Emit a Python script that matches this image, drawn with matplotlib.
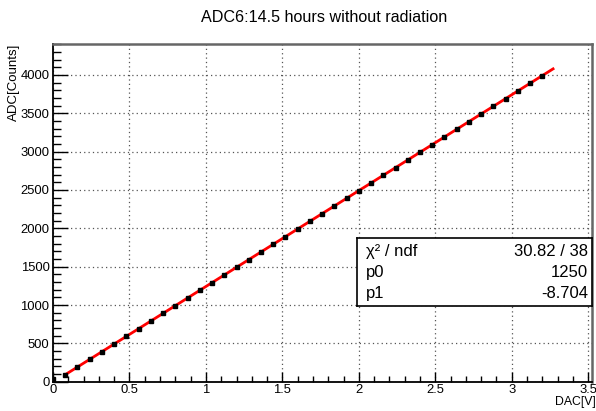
import numpy as np
import matplotlib
matplotlib.use("Agg")
import matplotlib.pyplot as plt
from matplotlib.ticker import MultipleLocator

plt.rcParams['font.family'] = ['Liberation Sans', 'DejaVu Sans']

# DAC scan: voltage set points and measured ADC counts
dac_v = [0.0, 0.08, 0.16, 0.24, 0.32, 0.40, 0.48, 0.56, 0.64, 0.72, 0.80,
         0.88, 0.96, 1.04, 1.12, 1.20, 1.28, 1.36, 1.44, 1.52, 1.60,
         1.68, 1.76, 1.84, 1.92, 2.00, 2.08, 2.16, 2.24, 2.32, 2.40,
         2.48, 2.56, 2.64, 2.72, 2.80, 2.88, 2.96, 3.04, 3.12, 3.20]
adc_counts = [40, 91, 191, 291, 391, 492, 591, 690, 791, 891, 991,
              1092, 1191, 1290, 1391, 1491, 1590, 1691, 1791, 1892, 1991,
              2091, 2190, 2291, 2391, 2491, 2592, 2691, 2790, 2891, 2991,
              3091, 3192, 3291, 3390, 3491, 3591, 3691, 3790, 3891, 3991]

# linear fit result (pol1: p0*x + p1)
p0 = 1250
p1 = -8.704
chi2_txt = "30.82 / 38"
fit_range = [0.09, 3.27]

fig = plt.figure(figsize=(5.96, 4.11), dpi=100)
ax = fig.add_axes([0.0889, 0.0713, 0.9045, 0.822])

xf = np.linspace(fit_range[0], fit_range[1], 200)
ax.plot(xf, p0 * xf + p1, color='red', lw=2.0, zorder=3)
ax.plot(dac_v, adc_counts, ls='none', marker='s', ms=2.4, color='black', zorder=4)

ax.set_xlim(0, 3.525)
ax.set_ylim(0, 4405)
ax.xaxis.set_major_locator(MultipleLocator(0.5))
ax.xaxis.set_minor_locator(MultipleLocator(0.1))
ax.yaxis.set_major_locator(MultipleLocator(500))
ax.yaxis.set_minor_locator(MultipleLocator(100))
ax.set_xticks([0, 0.5, 1, 1.5, 2, 2.5, 3, 3.5])
ax.set_xticklabels(['0', '0.5', '1', '1.5', '2', '2.5', '3', '3.5'])

ax.grid(True, which='major', ls=(0, (1, 2.5)), color='#555555', lw=0.9)
ax.tick_params(axis='x', which='major', direction='in', length=7.2, width=1.0,
               labelsize=9.4, pad=2, top=False)
ax.tick_params(axis='x', which='minor', direction='in', length=4.3, width=1.0, top=False)
ax.tick_params(axis='y', which='major', direction='in', length=10.8, width=1.0,
               labelsize=9.4, pad=2.5, right=False)
ax.tick_params(axis='y', which='minor', direction='in', length=5.4, width=1.0, right=False)

for s in ['left', 'bottom']:
    ax.spines[s].set_linewidth(1.3)
    ax.spines[s].set_color('black')
for s in ['top', 'right']:
    ax.spines[s].set_linewidth(1.8)
    ax.spines[s].set_color('#666666')

fig.text(0.543, 0.958, "ADC6:14.5 hours without radiation", ha='center', va='center', fontsize=11.6)
fig.text(0.999, 0.021, "DAC[V]", ha='right', va='center', fontsize=8.8)
fig.text(0.024, 0.893, "ADC[Counts]", ha='center', va='top', rotation=90, fontsize=9.5)

# stats box
box = fig.add_axes([0.599, 0.255, 0.394, 0.166])
box.set_xticks([])
box.set_yticks([])
for s in box.spines.values():
    s.set_linewidth(1.2)
    s.set_color('black')
rows = [("χ² / ndf", chi2_txt), ("p0", f"{p0}"), ("p1", f"{p1:.4g}")]
for i, (name, val) in enumerate(rows):
    yy = 0.80 - i * 0.31
    box.text(0.04, yy, name, ha='left', va='center', fontsize=12)
    box.text(0.985, yy, val, ha='right', va='center', fontsize=12)

fig.savefig("out.png", dpi=100)
